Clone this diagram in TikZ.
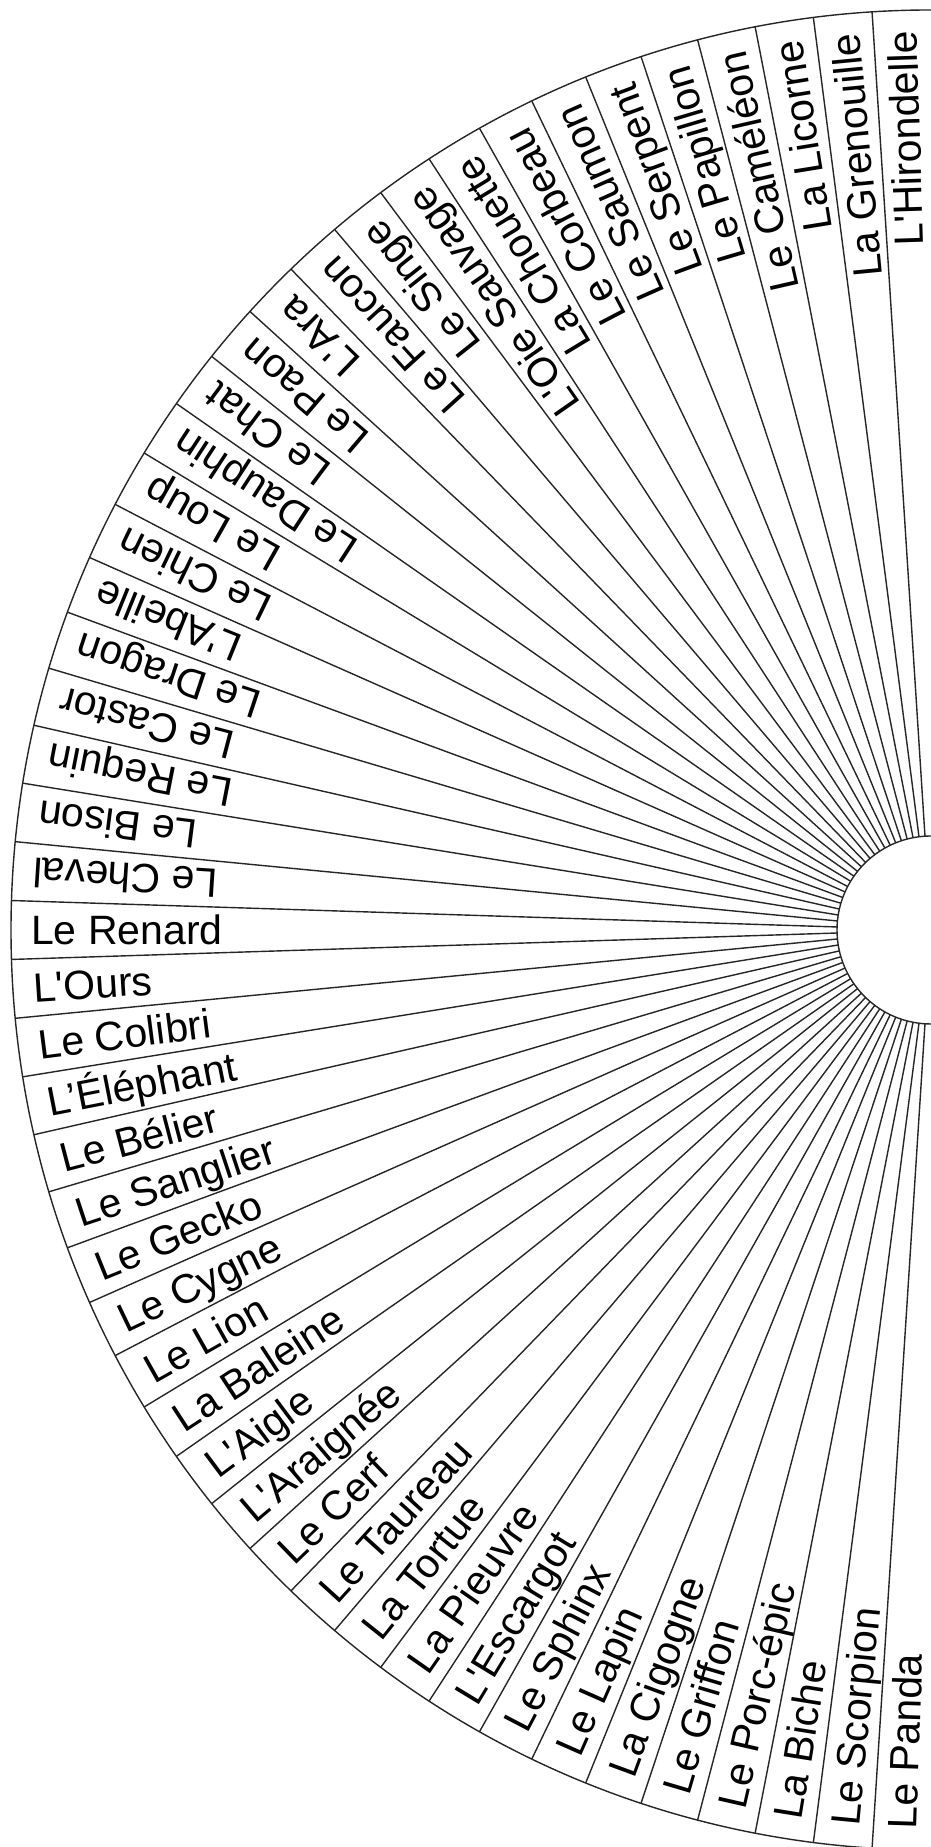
\documentclass[tikz,border=0pt]{standalone}
\usepackage{fontspec}
\setmainfont{Liberation Sans}[Ligatures=TeXOff]
\begin{document}
\begin{tikzpicture}[x=1pt,y=1pt,
  wheelline/.style={line width=1.4pt, draw=black!85},
  lab/.style={inner sep=0pt, font=\fontsize{41}{41}\selectfont, text height=29.5pt, text depth=0pt}]
\useasboundingbox (0,0) rectangle (931,1847);
\clip (0,0) rectangle (931,1847);
\coordinate (c) at (931,917);
\draw[wheelline] (c) circle (920);
\draw[wheelline] (c) circle (94);
\foreach \k in {1,...,48} {
  \pgfmathsetmacro\b{90+\k*180/49}
  \draw[wheelline] ([shift={(\b:94)}]c) -- ([shift={(\b:920)}]c);
}
\foreach \t [count=\i from 0] in {L'Hirondelle,La Grenouille,La Licorne,Le Caméléon,Le Papillon,Le Serpent,Le Saumon,Le Corbeau,La Chouette,L'Oie Sauvage,Le Singe,Le Faucon,L'Ara,Le Paon,Le Chat,Le Dauphin,Le Loup,Le Chien,L'Abeille,Le Dragon,Le Castor,Le Requin,Le Bison,Le Cheval,Le Renard,L'Ours,Le Colibri,L’Éléphant,Le Bélier,Le Sanglier,Le Gecko,Le Cygne,Le Lion,La Baleine,L'Aigle,L'Araignée,Le Cerf,Le Taureau,La Tortue,La Pieuvre,L'Escargot,Le Sphinx,Le Lapin,La Cigogne,Le Griffon,Le Porc-épic,La Biche,Le Scorpion,Le Panda} {
  \pgfmathsetmacro\a{90+(\i+0.5)*180/49}
  \ifnum\i<24
    \node[lab, rotate=\a, anchor=east] (l\i) at ([shift={(\a:900)}]c) {\t};
  \else
    \pgfmathsetmacro\ra{\a-180}
    \node[lab, rotate=\ra, anchor=west] (l\i) at ([shift={(\a:900)}]c) {\t};
  \fi
}
\end{tikzpicture}
\end{document}
